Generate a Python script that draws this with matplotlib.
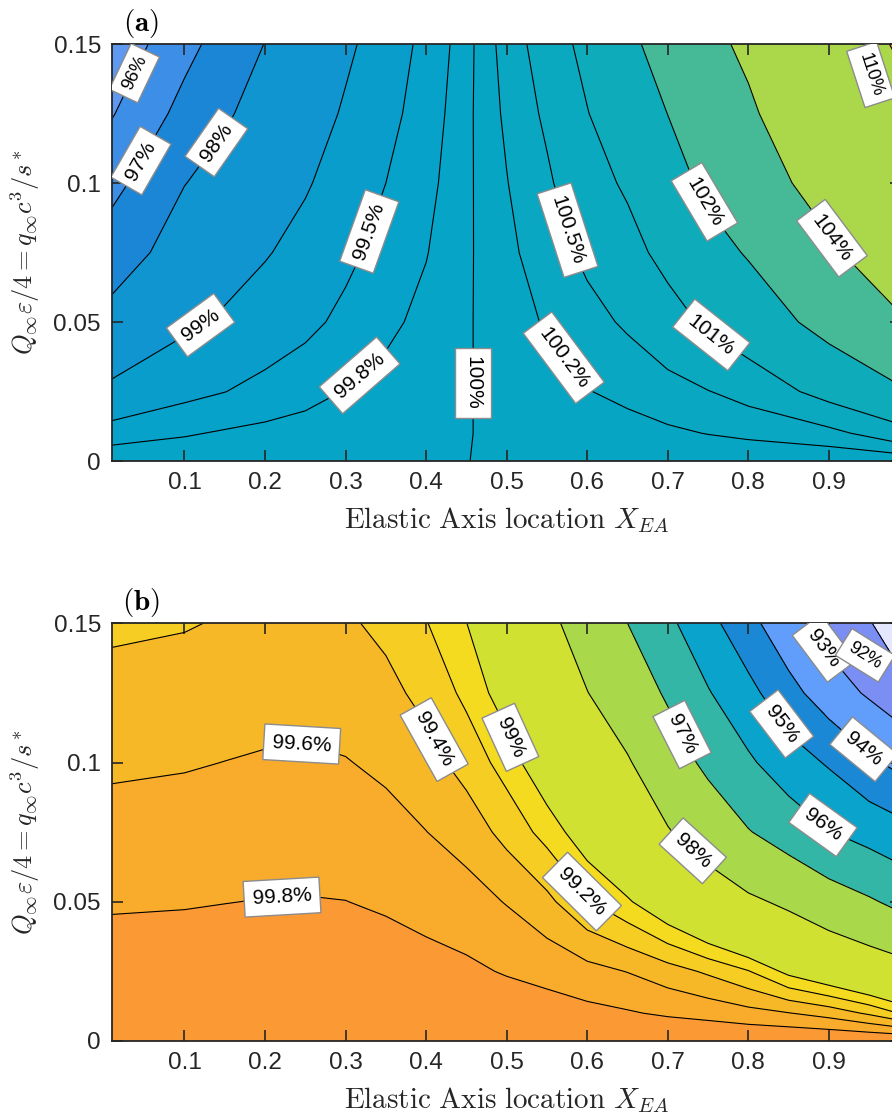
import numpy as np
import matplotlib
matplotlib.use("Agg")
import matplotlib.pyplot as plt

#Fuentes: tipo Arial para los numeros y Computer Modern para las formulas
plt.rcParams["font.family"] = ["Liberation Sans", "DejaVu Sans"]
plt.rcParams["mathtext.fontset"] = "cm"

#Marcas de los ejes (iguales en los dos paneles)
x_ticks = [0.1, 0.2, 0.3, 0.4, 0.5, 0.6, 0.7, 0.8, 0.9]
x_tick_labels = ["0.1", "0.2", "0.3", "0.4", "0.5", "0.6", "0.7", "0.8", "0.9"]
y_ticks = [0, 0.05, 0.1, 0.15]
y_tick_labels = ["0", "0.05", "0.1", "0.15"]

#Panel (a): valores, una lista por columna de X_EA
xa = [0.01, 0.1, 0.15, 0.2, 0.25, 0.3, 0.35, 0.4, 0.45, 0.5, 0.55, 0.6, 0.65, 0.7,
      0.75, 0.8, 0.9, 0.99]
ya = [0, 0.01, 0.025, 0.05, 0.075, 0.1, 0.125, 0.15]
za = [
    [99.999, 99.65, 99.15, 98.32, 97.51, 96.72, 95.94, 95.30],
    [99.999, 99.77, 99.40, 98.90, 98.44, 97.98, 97.31, 96.70],
    [99.999, 99.83, 99.494, 99.094, 98.70, 98.31, 97.895, 97.40],
    [99.999, 99.87, 99.61, 99.26, 98.96, 98.64, 98.33, 98.02],
    [99.999, 99.896, 99.717, 99.407, 99.18, 98.948, 98.70, 98.45],
    [99.999, 99.92, 99.81, 99.59, 99.41, 99.24, 99.07, 98.89],
    [99.999, 99.95, 99.87, 99.75, 99.63, 99.50, 99.38, 99.27],
    [99.999, 99.97, 99.93, 99.86, 99.79, 99.73, 99.67, 99.61],
    [99.998, 99.996, 99.99, 99.98, 99.97, 99.96, 99.95, 99.93],
    [100.02, 100.02, 100.05, 100.10, 100.14, 100.19, 100.245, 100.30],
    [100.001, 100.045, 100.11, 100.223, 100.334, 100.444, 100.566, 100.70],
    [100.001, 100.075, 100.19, 100.383, 100.58, 100.78, 100.98, 101.17],
    [100.001, 100.104, 100.267, 100.551, 100.807, 101.08, 101.41, 101.74],
    [100.001, 100.154, 100.376, 100.77, 101.18, 101.60, 102.01, 102.50],
    [100.001, 100.209, 100.489, 101.094, 101.64, 102.21, 102.81, 103.42],
    [100.001, 100.26, 100.63, 101.41, 102.08, 102.87, 103.65, 104.45],
    [100.001, 100.38, 101.21, 102.36, 103.65, 104.95, 106.24, 107.5],
    [100.001, 100.78, 101.85, 103.8, 105.6, 107.3, 108.9, 110.5],
]
niveles_a = [96, 97, 98, 99, 99.5, 99.8, 100, 100.2, 100.5, 101, 102, 104, 110]
colores_a = ["#5e98f0", "#3d8ee6", "#1c86d6", "#1095d0", "#099dcc", "#06a2ca",
             "#06a4c7", "#07a5c4", "#09a7c2", "#0ba9c0", "#0eabbb", "#46b996",
             "#abd84b", "#f8a13a"]
etiquetas_a = [(0.0386, 0.1394), (0.048, 0.1077), (0.147, 0.113), (0.122, 0.048),
               (0.331, 0.0824), (0.32, 0.030), (0.463, 0.028), (0.567, 0.0363),
               (0.575, 0.083), (0.7525, 0.0447), (0.746, 0.0933), (0.9036, 0.0801),
               (0.975, 0.142)]
pequenas_a = ["96%", "110%"]
#Etiquetas que en el original quedan algo separadas de su linea (borde derecho)
movidas_a = {"110%": ((0.952, 0.139), -72)}

#Panel (b)
xb = [0.01, 0.1, 0.15, 0.2, 0.25, 0.3, 0.35, 0.4, 0.45, 0.5, 0.55, 0.6, 0.65, 0.7,
      0.75, 0.8, 0.85, 0.9, 0.95, 0.99]
yb = [0, 0.01, 0.025, 0.05, 0.075, 0.1, 0.125, 0.15]
zb = [
    [100, 99.956, 99.89, 99.78, 99.673, 99.568, 99.466, 99.365],
    [100, 99.957, 99.894, 99.788, 99.686, 99.585, 99.486, 99.387],
    [100, 99.959, 99.898, 99.797, 99.699, 99.602, 99.509, 99.415],
    [100, 99.961, 99.902, 99.805, 99.711, 99.618, 99.525, 99.44],
    [100, 99.962, 99.904, 99.808, 99.715, 99.624, 99.536, 99.45],
    [100, 99.96, 99.901, 99.802, 99.705, 99.609, 99.505, 99.43],
    [100, 99.955, 99.888, 99.777, 99.668, 99.561, 99.458, 99.35],
    [100, 99.946, 99.866, 99.733, 99.603, 99.474, 99.34, 99.21],
    [100, 99.934, 99.836, 99.684, 99.514, 99.324, 99.153, 99.005],
    [100, 99.913, 99.785, 99.589, 99.336, 99.116, 98.876, 98.6],
    [100, 99.889, 99.735, 99.452, 99.127, 98.80, 98.50, 98.19],
    [100, 99.853, 99.665, 99.219, 98.847, 98.431, 98.015, 97.63],
    [100, 99.818, 99.594, 99.033, 98.551, 98.065, 97.535, 97.0],
    [100, 99.771, 99.488, 98.765, 98.05, 97.472, 96.886, 96.21],
    [100, 99.729, 99.368, 98.454, 97.6, 96.804, 96.066, 95.31],
    [100, 99.666, 99.213, 98.139, 97.048, 96.146, 95.289, 94.31],
    [100, 99.607, 98.937, 97.859, 96.585, 95.46, 94.333, 93.3],
    [100, 99.52, 98.741, 97.476, 96.034, 94.899, 93.46, 92.62],
    [100, 99.366, 98.52, 97.106, 95.663, 94.159, 92.88, 92.09],
    [100, 99.18, 98.324, 96.765, 95.333, 93.722, 92.4, 91.15],
]
niveles_b = [92, 93, 94, 95, 96, 97, 98, 99, 99.2, 99.4, 99.6, 99.8]
colores_b = ["#e5e7ff", "#7b8ef4", "#619dfa", "#1a88d4", "#0aa3cb", "#33b6a6",
             "#a9d84b", "#d1e132", "#f4db1f", "#f6cd22", "#f7b827", "#f9ac2c",
             "#fb9a35"]
etiquetas_b = [(0.2455, 0.1067), (0.221, 0.0521), (0.411, 0.1084), (0.5066, 0.1093),
               (0.591, 0.0531), (0.730, 0.068), (0.7175, 0.11), (0.891, 0.077),
               (0.8395, 0.1135), (0.941, 0.104), (0.879, 0.138), (0.955, 0.145)]
pequenas_b = ["92%"]
movidas_b = {"92%": ((0.945, 0.1385), -32)}


#Funcion que dibuja un panel de contornos rellenos con sus etiquetas

def dibujar_panel(ax, x, y, z, niveles, colores, etiquetas, pequenas, movidas, letra):
    X, Y = np.meshgrid(x, y)
    Z = np.array(z).T
    bordes = [Z.min() - 1] + niveles + [Z.max() + 1]

    ax.contourf(X, Y, Z, levels=bordes, colors=colores)
    cs = ax.contour(X, Y, Z, levels=niveles, colors="k", linewidths=0.8)

    #Etiquetas en cajas blancas (la caja tapa la linea)
    textos = ax.clabel(cs, manual=etiquetas, inline=False, fontsize=15,
                       fmt=lambda v: f"{v:g}%")
    for t in textos:
        if t.get_text() in pequenas:
            t.set_fontsize(13)
        if t.get_text() in movidas:
            pos, giro = movidas[t.get_text()]
            t.set_position(pos)
            t.set_rotation(giro)
        t.set_bbox(dict(boxstyle="square,pad=0.4", fc="white", ec="#8c8c8c", lw=1.0))

    ax.set_xlim(0.01, 0.99)
    ax.set_ylim(0, 0.15)
    ax.set_xticks(x_ticks)
    ax.set_xticklabels(x_tick_labels)
    ax.set_yticks(y_ticks)
    ax.set_yticklabels(y_tick_labels)
    ax.tick_params(direction="in", length=8, width=1.2, top=True, right=True,
                   labelsize=17.5, colors="#262626", pad=8)
    for s in ax.spines.values():
        s.set_color("#262626")
        s.set_linewidth(1.3)

    ax.set_xlabel(r"$\mathrm{Elastic\ Axis\ location}\ X_{EA}$", fontsize=21,
                  color="#262626", labelpad=8)
    ax.set_ylabel(r"$Q_\infty\varepsilon/4 = q_\infty c^3/s^*$", fontsize=19,
                  color="#262626", labelpad=8)
    ax.text(0.037, 1.01, letra, transform=ax.transAxes, ha="center", va="bottom",
            fontsize=21)


fig = plt.figure(figsize=(8.92, 11.2), dpi=100)

#Los ejes siguen mas alla del borde derecho (la figura original esta recortada)
ax_a = fig.add_axes([0.12556, 0.58839, 0.88498, 0.37232])
ax_b = fig.add_axes([0.12556, 0.070536, 0.88498, 0.37295])

dibujar_panel(ax_a, xa, ya, za, niveles_a, colores_a, etiquetas_a, pequenas_a,
              movidas_a, r"$\mathbf{(a)}$")
dibujar_panel(ax_b, xb, yb, zb, niveles_b, colores_b, etiquetas_b, pequenas_b,
              movidas_b, r"$\mathbf{(b)}$")

fig.savefig("out.png", dpi=100)
